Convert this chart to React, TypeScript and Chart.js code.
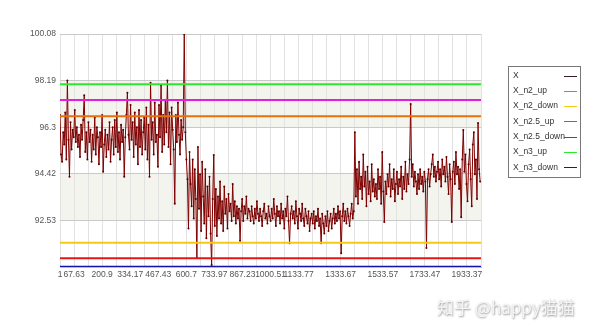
import React, { useEffect, useRef } from 'react';
import { Chart, registerables } from 'chart.js';

Chart.register(...registerables);

const X_START = 1;
const X_END = 1996;
const X_AXIS_MIN = 1;
const X_AXIS_MAX = 2000;

const X_VALUES = [
  96.8, 95.2, 94.9, 96.1, 95.6, 96.9, 95.0, 98.2, 95.8, 94.3, 96.5, 95.4, 96.2, 95.9, 97.0, 95.7, 96.3, 95.5, 96.0, 95.1,
  96.4, 95.8, 96.6, 97.6, 95.3, 96.1, 95.0, 96.5, 95.7, 96.2, 94.9, 96.0, 95.4, 96.7, 95.2, 96.3, 95.9, 94.8, 96.1, 95.5,
  96.8, 94.5, 95.6, 96.2, 95.1, 96.0, 95.4, 96.5, 94.9, 95.8, 96.3, 95.2, 96.6, 95.5, 96.9, 95.3, 96.1, 95.0, 96.4, 95.7,
  96.2, 94.3, 95.9, 96.8, 97.7, 96.0, 95.4, 97.2, 95.8, 96.5, 95.1, 96.9, 95.6, 96.3, 94.8, 97.0, 95.5, 96.6, 95.2, 96.1,
  96.7, 95.4, 97.1, 95.0, 96.4, 94.3, 98.1, 95.8, 96.5, 95.2, 97.3, 95.7, 96.0, 94.7, 97.2, 95.9, 98.0, 95.3, 96.8, 95.6,
  97.4, 96.1, 98.2, 95.5, 96.9, 94.8, 97.1, 96.2, 95.4, 93.2, 96.8, 95.7, 97.3, 96.0, 95.2, 96.6, 95.8, 96.3,
  100.08,
  96.1, 95.0, 94.2, 92.2, 95.3, 94.0, 93.1, 95.0, 92.6, 94.6, 93.4, 91.0, 95.5, 93.0, 94.4, 92.1, 94.9, 93.5, 92.4, 94.6, 91.8,
  93.9, 92.7, 94.3, 92.0, 90.72, 93.4, 95.18, 92.3, 93.8, 91.9, 93.5, 92.6, 94.1, 92.4, 93.3, 92.1, 93.9, 92.8, 93.4, 92.2,
  93.6, 92.9, 93.2, 92.5, 94.0, 92.7, 93.3, 92.4, 93.1, 92.6, 93.0, 91.7, 92.9, 93.4, 92.5, 93.1, 92.8, 93.5, 92.6, 93.0,
  92.9, 92.5, 93.1, 92.7, 92.4, 93.0, 92.6, 93.3, 92.8, 92.5, 93.0, 92.7, 92.3, 92.9, 93.2, 92.6, 92.8, 92.4, 93.1, 92.7,
  92.5, 93.0, 92.6, 93.4, 92.8, 92.3, 93.1, 92.7, 92.9, 92.4, 93.2, 92.6, 92.9, 92.2, 93.0, 92.7, 93.5, 92.5, 91.6, 92.8,
  93.1, 92.6, 92.9, 92.4, 93.3, 92.7, 92.2, 93.0, 92.8, 92.5, 93.2, 92.6, 92.3, 93.0, 92.7, 92.4, 92.9, 92.1, 92.6, 92.8,
  92.4, 92.9, 92.2, 92.7, 92.5, 93.0, 92.3, 92.6, 91.6, 92.8, 92.4, 92.0, 92.7, 92.3, 92.9, 92.1, 92.5, 92.8, 92.2, 92.6,
  93.0, 92.4, 92.8, 92.5, 93.1, 92.6, 92.9, 91.2, 92.7, 93.2, 92.5, 92.9, 92.4, 93.0, 92.7, 92.3, 92.8, 93.2, 92.6, 92.9,
  96.1,
  93.5, 94.6, 93.2, 94.9, 93.8, 94.3, 93.4, 95.2, 93.9, 94.5, 93.1, 94.7, 93.6, 94.1, 93.3, 94.8, 93.7, 94.2, 93.5,
  94.0, 93.4, 94.6, 93.8, 94.3, 93.2, 95.3, 93.7, 92.46, 94.1, 93.6, 94.4, 93.9, 94.8, 93.5, 94.2, 93.8, 94.6, 93.3, 94.0,
  94.5, 93.6, 94.2, 93.9, 94.7, 93.4, 94.3, 93.8, 94.9, 93.7, 94.4, 94.0, 95.0, 97.24, 94.3, 94.8, 93.9, 94.5, 94.1, 93.6,
  94.4, 93.8, 94.6, 94.0, 94.3, 93.7, 94.5, 94.1, 91.41, 94.2, 94.6, 93.9, 94.4, 94.8, 95.2, 94.3, 94.7, 94.1, 94.5, 94.9,
  94.2, 94.6, 93.9, 95.0, 94.4, 94.7, 94.1, 95.1, 94.3, 93.6, 94.8, 94.2, 92.46, 94.5, 94.9, 94.0, 95.3, 94.4, 94.7, 93.8,
  94.6, 92.66, 95.0, 96.19, 94.5, 95.2, 94.0, 93.3, 94.8, 95.4, 94.2, 93.1, 95.6, 96.1, 94.4, 95.0, 93.4, 96.47, 94.6, 94.1,
];

const X_N2_UP = 96.75;
const X_N2_DOWN = 91.62;
const X_N25_UP = 97.41;
const X_N25_DOWN = 90.99;
const X_N3_UP = 98.04;
const X_N3_DOWN = 90.65;

const SERIES_NAMES = ['X', 'X_n2_up', 'X_n2_down', 'X_n2.5_up', 'X_n2.5_down', 'X_n3_up', 'X_n3_down'];
const SERIES_COLORS = ['#800000', '#e8700a', '#f7c815', '#e31ee3', '#e81414', '#2ee82e', '#1414aa'];
const LEVELS = [X_N2_UP, X_N2_DOWN, X_N25_UP, X_N25_DOWN, X_N3_UP, X_N3_DOWN];

const Y_TICKS = [90.64, 92.528, 94.416, 96.304, 98.192, 100.08];
const Y_TICK_LABELS = ['', '92.53', '94.42', '96.3', '98.19', '100.08'];

const X_TICK_LABELS = [
  '1', '67.63', '', '200.9', '', '334.17', '', '467.43', '', '600.7', '', '733.97', '', '867.23', '', '1000.51',
  '', '1133.77', '', '', '1333.67', '', '', '1533.57', '', '', '1733.47', '', '', '1933.37', '',
];

const WATERMARK = '知乎 @happy猫猫';
const FONT = '"Liberation Sans", Arial, sans-serif';

const bandsPlugin = {
  id: 'bands',
  beforeDraw(chart: any) {
    const { ctx, chartArea, scales } = chart;
    const y = scales.y;
    ctx.save();
    ctx.fillStyle = '#ffffff';
    ctx.fillRect(chartArea.left, chartArea.top, chartArea.right - chartArea.left, chartArea.bottom - chartArea.top);
    ctx.fillStyle = '#f4f4ef';
    for (let i = 0; i < Y_TICKS.length - 1; i++) {
      if (i % 2 === 1) {
        const y1 = y.getPixelForValue(Y_TICKS[i]);
        const y2 = y.getPixelForValue(Y_TICKS[i + 1]);
        ctx.fillRect(chartArea.left, y2, chartArea.right - chartArea.left, y1 - y2);
      }
    }
    ctx.restore();
  },
};

const legendPlugin = {
  id: 'customLegend',
  afterDraw(chart: any) {
    const { ctx } = chart;
    ctx.save();
    ctx.strokeStyle = '#777777';
    ctx.lineWidth = 1;
    ctx.strokeRect(508.5, 66.5, 72, 111);
    ctx.font = `8.5px ${FONT}`;
    ctx.textBaseline = 'middle';
    ctx.textAlign = 'left';
    SERIES_NAMES.forEach((name, i) => {
      const yy = 75.5 + i * 15.3;
      ctx.fillStyle = '#333333';
      ctx.fillText(name, 513, yy);
      ctx.strokeStyle = i === 0 ? '#3a1a2a' : SERIES_COLORS[i];
      ctx.beginPath();
      ctx.moveTo(564, Math.round(yy) + 0.5);
      ctx.lineTo(577, Math.round(yy) + 0.5);
      ctx.stroke();
    });
    // watermark
    ctx.font = `17px "Noto Sans CJK SC", sans-serif`;
    ctx.textBaseline = 'middle';
    ctx.shadowColor = 'rgba(0,0,0,0.45)';
    ctx.shadowBlur = 2;
    ctx.shadowOffsetX = 0.5;
    ctx.shadowOffsetY = 0.5;
    ctx.fillStyle = '#f4f4f4';
    ctx.fillText(WATERMARK, 437, 308);
    ctx.restore();
  },
};

export default function App() {
  const ref = useRef<HTMLCanvasElement>(null);

  useEffect(() => {
    if (!ref.current) return;
    const n = X_VALUES.length;
    const xs = X_VALUES.map((_, i) => X_START + (i * (X_END - X_START)) / (n - 1));
    const mainData = X_VALUES.map((v, i) => ({ x: xs[i], y: v }));

    const levelSets = LEVELS.map((lv, k) => ({
      label: SERIES_NAMES[k + 1],
      data: [
        { x: X_AXIS_MIN, y: lv },
        { x: X_AXIS_MAX, y: lv },
      ],
      borderColor: SERIES_COLORS[k + 1],
      borderWidth: 2,
      pointRadius: 0,
      order: 0,
    }));

    const chart = new Chart(ref.current, {
      type: 'line',
      data: {
        datasets: [
          {
            label: 'X',
            data: mainData,
            borderColor: SERIES_COLORS[0],
            borderWidth: 1,
            pointRadius: 1,
            pointBorderWidth: 0,
            pointBackgroundColor: '#5a0000',
            order: 1,
          },
          ...levelSets,
        ],
      },
      plugins: [bandsPlugin, legendPlugin],
      options: {
        responsive: false,
        animation: false,
        layout: { padding: { top: 34, right: 119, left: 0, bottom: 0 } },
        plugins: { legend: { display: false }, tooltip: { enabled: false } },
        elements: { line: { tension: 0 } },
        scales: {
          x: {
            type: 'linear',
            min: X_AXIS_MIN,
            max: X_AXIS_MAX,
            afterBuildTicks: (axis: any) => {
              axis.ticks = X_TICK_LABELS.map((_, k) => ({
                value: X_AXIS_MIN + (k * (X_AXIS_MAX - X_AXIS_MIN)) / (X_TICK_LABELS.length - 1),
              }));
            },
            afterFit: (scale: any) => {
              scale.height = 66;
            },
            ticks: {
              autoSkip: false,
              maxRotation: 0,
              minRotation: 0,
              padding: 3,
              color: '#555555',
              font: { family: FONT, size: 8.5 },
              callback: (_v: any, i: number) => X_TICK_LABELS[i],
            },
            grid: { color: '#e2e2e2', drawTicks: false, lineWidth: 1 },
            border: { display: true, color: '#bbbbbb' },
          },
          y: {
            type: 'linear',
            min: Y_TICKS[0],
            max: Y_TICKS[Y_TICKS.length - 1],
            afterBuildTicks: (axis: any) => {
              axis.ticks = Y_TICKS.map((v) => ({ value: v }));
            },
            afterFit: (scale: any) => {
              scale.width = 60;
            },
            ticks: {
              padding: 4,
              color: '#555555',
              font: { family: FONT, size: 8.5 },
              callback: (_v: any, i: number) => Y_TICK_LABELS[i],
            },
            grid: { color: '#c9c9c9', drawTicks: false, lineWidth: 1 },
            border: { display: false },
          },
        },
      },
    });
    return () => chart.destroy();
  }, []);

  return (
    <div style={{ position: 'fixed', left: 0, top: 0, width: 600, height: 333, background: '#ffffff' }}>
      <canvas ref={ref} width={600} height={333} style={{ width: 600, height: 333, display: 'block' }} />
    </div>
  );
}
